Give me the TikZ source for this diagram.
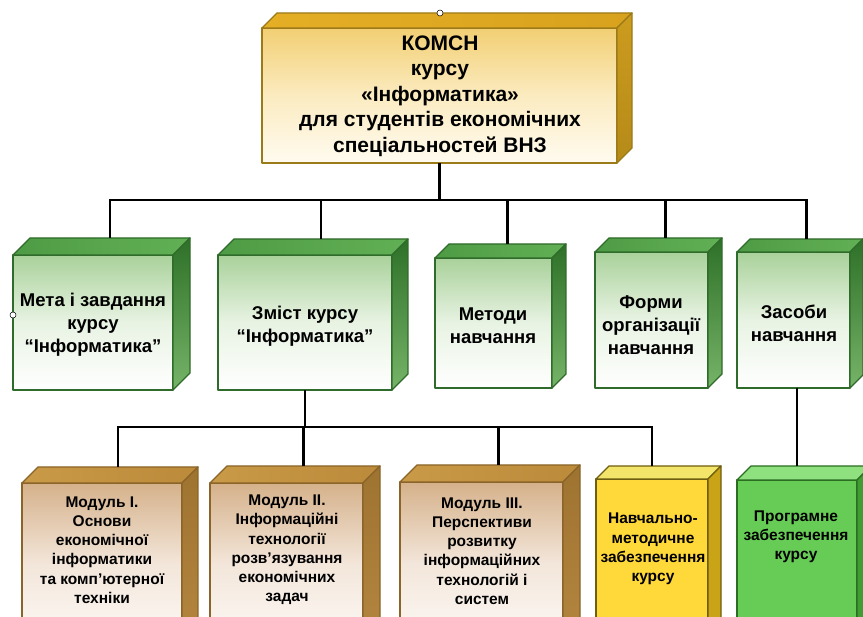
\documentclass[tikz,border=0pt]{standalone}
\usepackage{fontspec}
\setmainfont{Liberation Sans}
\usetikzlibrary{fit,calc}

\definecolor{gborder}{HTML}{2F6B2A}
\definecolor{gfront1}{HTML}{A9D19A}
\definecolor{gfront2}{HTML}{E8F3E3}
\definecolor{gtop1}{HTML}{4E9B45}
\definecolor{gtop2}{HTML}{62B055}
\definecolor{gside1}{HTML}{2E7028}
\definecolor{gside2}{HTML}{76B468}

\definecolor{oborder}{HTML}{9C7A18}
\definecolor{ofront1}{HTML}{F2CF73}
\definecolor{ofront2}{HTML}{FBEBC0}
\definecolor{ofront3}{HTML}{FFFBF0}
\definecolor{otop1}{HTML}{E4AE25}
\definecolor{otop2}{HTML}{D9A21E}
\definecolor{oside1}{HTML}{CC9C1E}
\definecolor{oside2}{HTML}{B58A18}

\definecolor{bborder}{HTML}{8A6428}
\definecolor{bfront1}{HTML}{D5B18A}
\definecolor{bfront2}{HTML}{F3E6DA}
\definecolor{bfront3}{HTML}{FDFAF7}
\definecolor{btop1}{HTML}{C99A48}
\definecolor{btop2}{HTML}{BB8A3A}
\definecolor{bside1}{HTML}{9E7330}
\definecolor{bside2}{HTML}{B48640}

\definecolor{yborder}{HTML}{6E5E10}
\definecolor{yfront}{HTML}{FFD93A}
\definecolor{ytop}{HTML}{F3E46A}
\definecolor{yside}{HTML}{C9A416}

\definecolor{lborder}{HTML}{2B6E22}
\definecolor{lfront}{HTML}{66CC55}
\definecolor{ltop}{HTML}{8FE07E}
\definecolor{lside}{HTML}{3F9D33}

\tikzset{
  face/.style={line width=1.3pt, line join=round},
  greenfront/.style={face, draw=gborder, top color=gfront1, bottom color=white, middle color=gfront2},
  greentop/.style={face, draw=gborder, left color=gtop1, right color=gtop2},
  greenside/.style={face, draw=gborder, top color=gside1, bottom color=gside2},
  goldfront/.style={face, draw=oborder, top color=ofront1, bottom color=ofront3, middle color=ofront2},
  goldtop/.style={face, draw=oborder, left color=otop1, right color=otop2},
  goldside/.style={face, draw=oborder, top color=oside1, bottom color=oside2},
  brownfront/.style={face, draw=bborder, top color=bfront1, bottom color=bfront3, middle color=bfront2},
  browntop/.style={face, draw=bborder, left color=btop1, right color=btop2},
  brownside/.style={face, draw=bborder, top color=bside1, bottom color=bside2},
  yellowfront/.style={face, draw=yborder, fill=yfront},
  yellowtop/.style={face, draw=yborder, fill=ytop},
  yellowside/.style={face, draw=yborder, fill=yside},
  limefront/.style={face, draw=lborder, fill=lfront},
  limetop/.style={face, draw=lborder, fill=ltop},
  limeside/.style={face, draw=lborder, fill=lside},
  conn/.style={line width=2.4pt, draw=black},
  bigtxt/.style={align=center, inner sep=0pt, font=\bfseries\fontsize{21}{25.5}\selectfont},
  midtxt/.style={align=center, inner sep=0pt, font=\bfseries\fontsize{18.5}{23}\selectfont},
  smalltxt/.style={align=center, inner sep=0pt, font=\bfseries\fontsize{15.5}{19.2}\selectfont},
  handle/.style={circle, draw=black, fill=white, line width=0.5pt, inner sep=0pt, minimum size=6pt},
}

% #1 name, #2 x1, #3 y1 (top), #4 x2, #5 y2 (bottom), #6 depth, #7 scheme
\newcommand{\cubebox}[7]{%
  \path[#7front] (#2,#3) rectangle (#4,#5);
  \path[#7top] (#2,#3) -- (#2+#6,#3-#6) -- (#4+#6,#3-#6) -- (#4,#3) -- cycle;
  \path[#7side] (#4,#3) -- (#4+#6,#3-#6) -- (#4+#6,#5-#6) -- (#4,#5) -- cycle;
  \coordinate (#1-nw) at (#2,#3);
  \coordinate (#1-se) at (#4,#5);
  \node[fit=(#1-nw)(#1-se), inner sep=0pt] (#1) {};
  \coordinate (#1-top) at ({(#2+#4)/2+#6},#3-#6);
  \coordinate (#1-ctop) at ({(#2+#4)/2},#3-#6);
}

\begin{document}
\begin{tikzpicture}[x=1pt,y=-1pt]
\useasboundingbox (0,0) rectangle (863,617);
\clip (0,0) rectangle (863,617);

% buses
\coordinate (b1) at (440,200);
\coordinate (b2) at (440,427);

% top box
\cubebox{komsn}{262}{28}{617}{163}{15}{gold}
\node[bigtxt] (komsnt) at (440,96) {КОМСН\\курсу\\«Інформатика»\\для студентів економічних\\спеціальностей ВНЗ};

% green row
\cubebox{meta}{13}{255}{173}{390}{17}{green}
\cubebox{zmist}{218}{255}{392}{390}{16}{green}
\cubebox{metody}{435}{258}{552}{388}{14}{green}
\cubebox{formy}{595}{252}{708}{388}{14}{green}
\cubebox{zasoby}{737}{252}{850}{388}{13}{green}

\node[midtxt] (metat) at (93,325) {Мета і завдання\\курсу\\“Інформатика”};
\node[midtxt] (zmistt) at (305,326) {Зміст курсу\\“Інформатика”};
\node[midtxt] (metodyt) at (493,326) {Методи\\навчання};
\node[midtxt] (formyt) at (651,325) {Форми\\організації\\навчання};
\node[midtxt] (zasobyt) at (794,323) {Засоби\\навчання};

% bottom row
\cubebox{m1}{22}{483}{182}{645}{16}{brown}
\cubebox{m2}{210}{483}{363}{645}{17}{brown}
\cubebox{m3}{400}{482}{563}{645}{17}{brown}
\cubebox{nav}{596}{479}{708}{645}{13}{yellow}
\cubebox{prog}{737}{480}{857}{645}{14}{lime}

\node[smalltxt] (m1t) at (102,550) {Модуль I.\\Основи\\економічної\\інформатики\\та комп’ютерної\\техніки};
\node[smalltxt] (m2t) at (287,550) {Модуль II.\\Інформаційні\\технології\\розв’язування\\економічних\\задач};
\node[smalltxt] (m3t) at (482,551) {Модуль III.\\Перспективи\\розвитку\\інформаційних\\технологій і\\систем};
\node[smalltxt] (navt) at (653,549) {Навчально-\\методичне\\забезпечення\\курсу};
\node[smalltxt] (progt) at (796,537) {Програмне\\забезпечення\\курсу};

% connectors
\draw[conn] (komsn.south) -- (komsn.south |- b1);
\draw[conn] (meta-top) -- (meta-top |- b1) -- (zasoby-top |- b1) -- (zasoby-top);
\draw[conn] (zmist-top) -- (zmist-top |- b1);
\draw[conn] (metody-top) -- (metody-top |- b1);
\draw[conn] (formy-top) -- (formy-top |- b1);

\draw[conn] (zmist.south) -- (zmist.south |- b2);
\draw[conn] (m1-top) -- (m1-top |- b2) -- (nav-ctop |- b2) -- (nav-ctop);
\draw[conn] (m2-top) -- (m2-top |- b2);
\draw[conn] (m3-top) -- (m3-top |- b2);
\draw[conn] (prog-ctop) -- (prog-ctop |- zasoby.south);

% selection handles
\node[handle] (h1) at (13,315) {};
\node[handle] (h2) at (440,13) {};
\end{tikzpicture}
\end{document}
